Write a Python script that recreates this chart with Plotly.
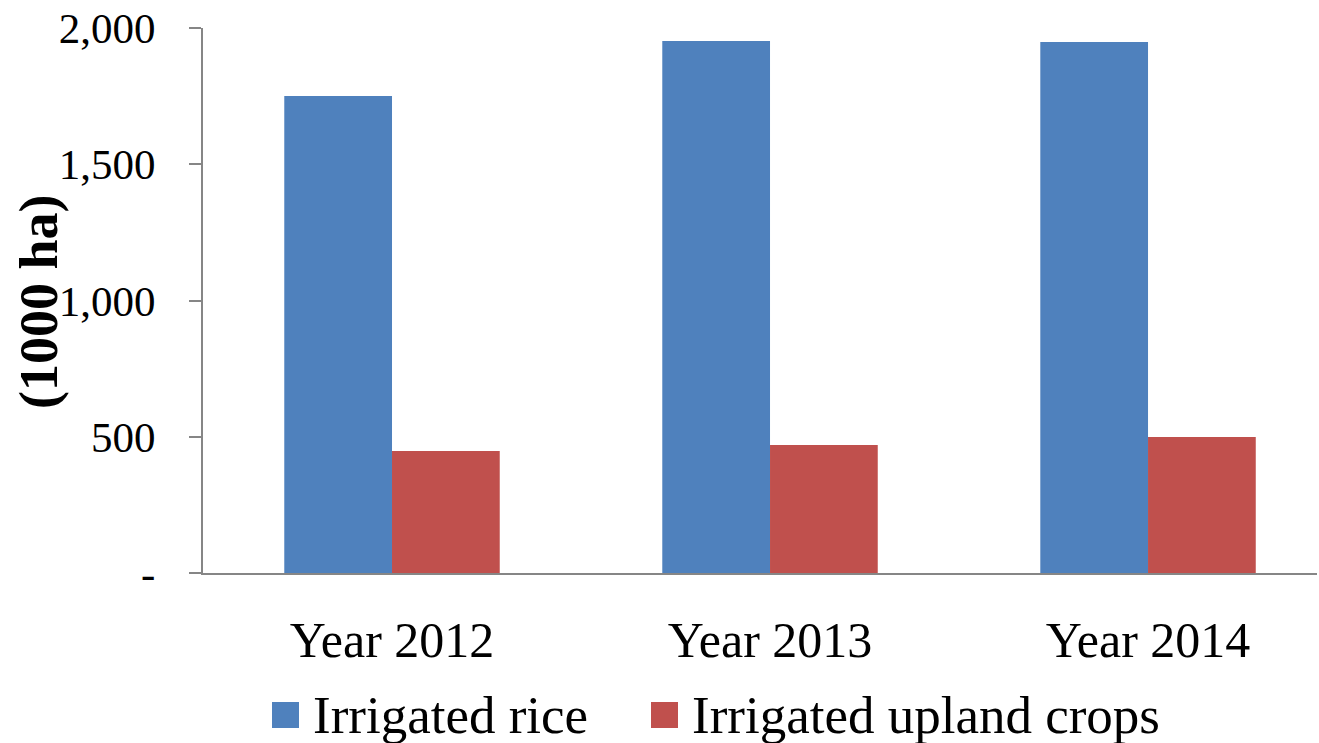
import plotly.graph_objects as go

categories = ["Year 2012", "Year 2013", "Year 2014"]
series_names = ["Irrigated rice", "Irrigated upland crops"]
rice = [1750, 1952, 1949]
upland = [448, 470, 499]
y_tickvals = [0, 500, 1000, 1500, 2000]
y_ticktext = ["-", "500", "1,000", "1,500", "2,000"]
colors = ["#4F81BD", "#C0504D"]

W, H = 1319, 743
L, R, T, B = 203, 2, 28, 170
pw, ph = W - L - R, H - T - B

def px(x):  # screen x -> paper
    return (x - L) / pw

def py(y):  # screen y -> paper
    return (H - B - y) / ph

FONT = "Liberation Serif, Times New Roman, serif"

fig = go.Figure()
for name, vals, c in zip(series_names, [rice, upland], colors):
    fig.add_trace(go.Bar(x=categories, y=vals, name=name, marker_color=c,
                         marker_line_width=0, showlegend=False))

fig.update_layout(
    width=W, height=H,
    margin=dict(l=L, r=R, t=T, b=B, autoexpand=False),
    barmode="group", bargap=0.43, bargroupgap=0,
    plot_bgcolor="white", paper_bgcolor="white",
    font=dict(family=FONT, color="black"),
)
fig.update_yaxes(
    range=[0, 2000], tickvals=y_tickvals, ticktext=y_ticktext,
    showgrid=False, zeroline=False, showline=True, linecolor="#868686", linewidth=2,
    ticks="outside", ticklen=12, tickcolor="#868686", tickwidth=2,
    tickfont=dict(size=43, family=FONT), ticklabelstandoff=25,
    ticklabeloverflow="allow",
)
# the original plot area runs a little past the right edge of the image
fig.update_xaxes(
    range=[-0.5, 2.447],
    showgrid=False, showline=True, linecolor="#868686", linewidth=2,
    ticks="", tickfont=dict(size=50, family=FONT), ticklabelstandoff=22,
    ticklabeloverflow="allow",
)

# legend drawn with shapes + text
legend_boxes = [(272, 299), (651, 678)]
for (x0, x1), name, c in zip(legend_boxes, series_names, colors):
    fig.add_shape(type="rect", xref="paper", yref="paper",
                  x0=px(x0), x1=px(x1), y0=py(728), y1=py(702),
                  fillcolor=c, line_width=0)
    fig.add_annotation(xref="paper", yref="paper", x=px(x1 + 12), y=py(715),
                       text=name, showarrow=False, xanchor="left", yanchor="middle",
                       font=dict(size=53, family=FONT, color="black"))

# y-axis title
fig.add_annotation(xref="paper", yref="paper", x=px(39), y=py(302), text="<b>(1000 ha)</b>",
                   textangle=-90, showarrow=False, xanchor="center", yanchor="middle",
                   font=dict(size=54, family=FONT, color="black"))

fig.write_html("out.html", config={"displayModeBar": False},
               post_script="document.body.style.margin='0';document.body.style.overflow='hidden';")
